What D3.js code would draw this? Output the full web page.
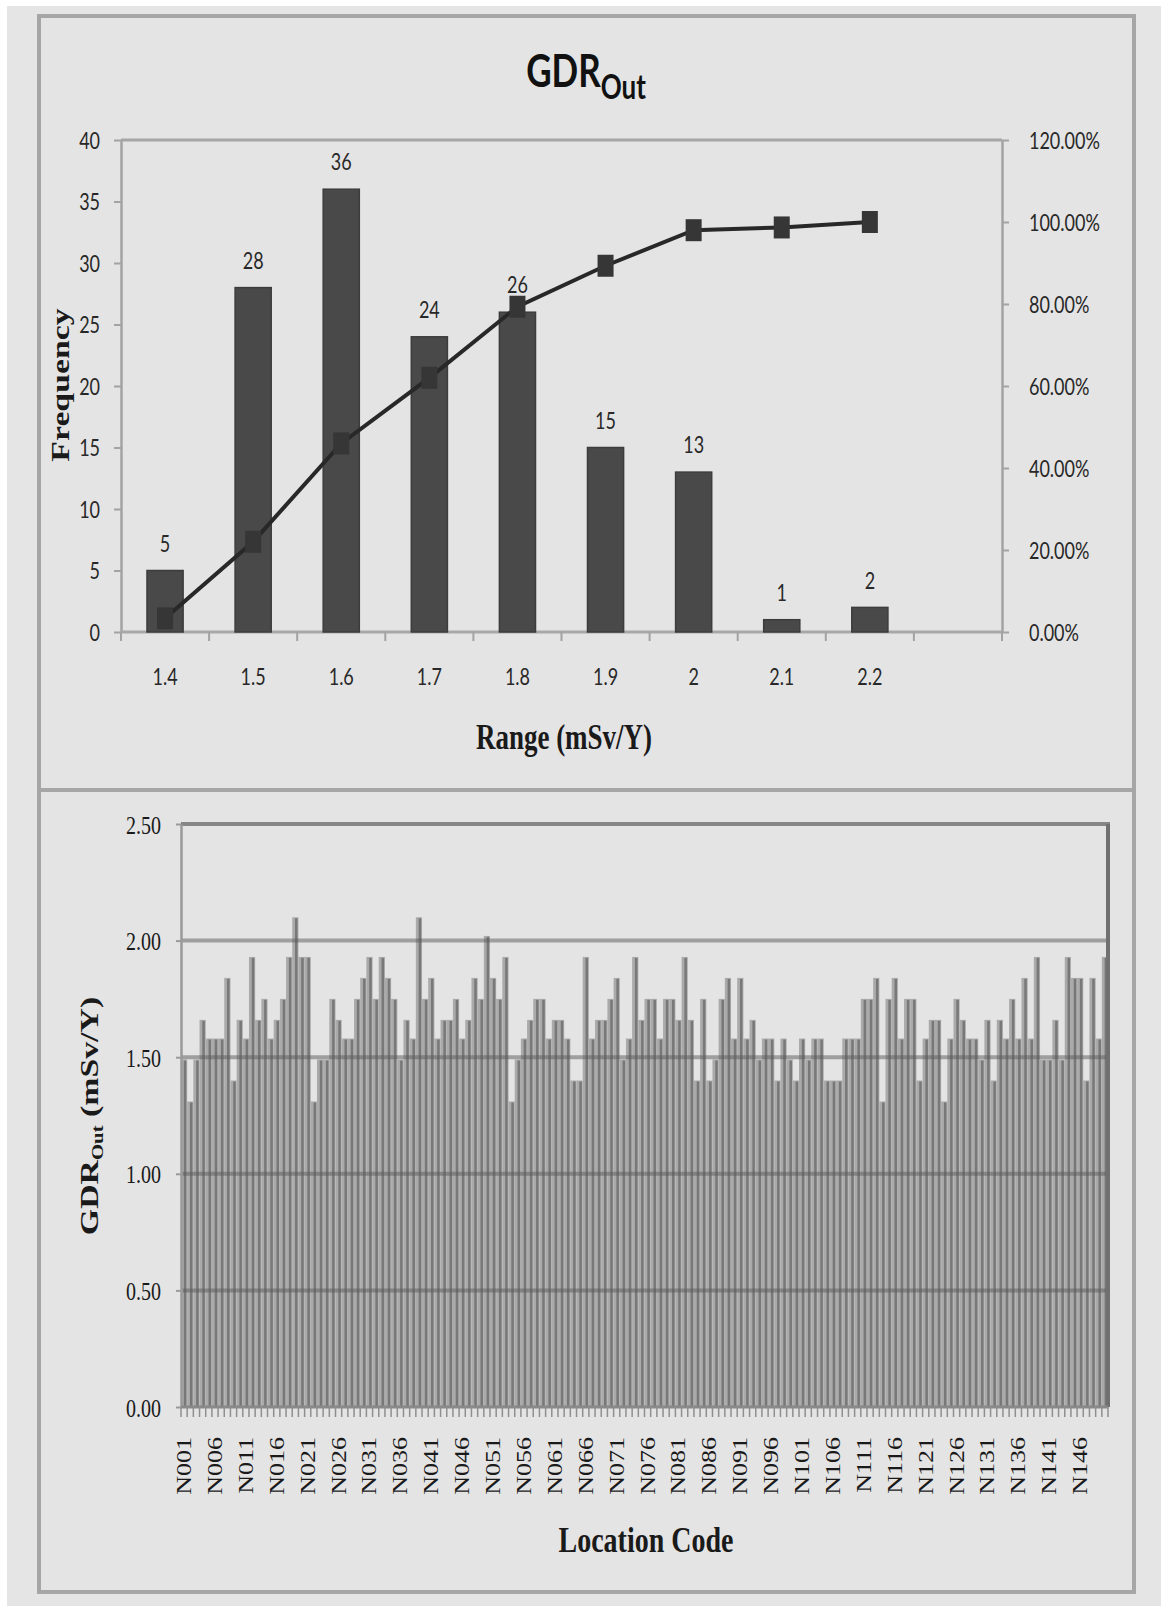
<!DOCTYPE html>
<html>
<head>
<meta charset="utf-8">
<script src="https://cdn.jsdelivr.net/npm/d3@7"></script>
<style>
  html, body { margin: 0; padding: 0; background: #fff; }
  svg { display: block; }
  .sans { font-family: Lato, "Open Sans", sans-serif; fill: #282828; }
  .serif { font-family: "Liberation Serif", "DejaVu Serif", serif; fill: #1a1a1a; }
</style>
</head>
<body>
<div id="chart"></div>
<script>
// ---- top chart: histogram of GDR_Out ----
var binLabels = ["1.4", "1.5", "1.6", "1.7", "1.8", "1.9", "2", "2.1", "2.2", ""];
var frequency = [5, 28, 36, 24, 26, 15, 13, 1, 2];
var cumulativePct = [3.33, 22.00, 46.00, 62.00, 79.33, 89.33, 98.00, 98.67, 100.00];
var freqTicks = [0, 5, 10, 15, 20, 25, 30, 35, 40];
var pctTicks = [0, 20, 40, 60, 80, 100, 120];

// ---- bottom chart: GDR_Out per location ----
var gdrTicks = [0, 0.5, 1.0, 1.5, 2.0, 2.5];
var gdrOut = [
  1.49, 1.31, 1.49, 1.66, 1.58, 1.58, 1.58, 1.84, 1.40, 1.66,
  1.58, 1.93, 1.66, 1.75, 1.58, 1.66, 1.75, 1.93, 2.10, 1.93,
  1.93, 1.31, 1.49, 1.49, 1.75, 1.66, 1.58, 1.58, 1.75, 1.84,
  1.93, 1.75, 1.93, 1.84, 1.75, 1.49, 1.66, 1.58, 2.10, 1.75,
  1.84, 1.58, 1.66, 1.66, 1.75, 1.58, 1.66, 1.84, 1.75, 2.02,
  1.84, 1.75, 1.93, 1.31, 1.49, 1.58, 1.66, 1.75, 1.75, 1.58,
  1.66, 1.66, 1.58, 1.40, 1.40, 1.93, 1.58, 1.66, 1.66, 1.75,
  1.84, 1.49, 1.58, 1.93, 1.66, 1.75, 1.75, 1.58, 1.75, 1.75,
  1.66, 1.93, 1.66, 1.40, 1.75, 1.40, 1.49, 1.75, 1.84, 1.58,
  1.84, 1.58, 1.66, 1.49, 1.58, 1.58, 1.40, 1.58, 1.49, 1.40,
  1.58, 1.49, 1.58, 1.58, 1.40, 1.40, 1.40, 1.58, 1.58, 1.58,
  1.75, 1.75, 1.84, 1.31, 1.75, 1.84, 1.58, 1.75, 1.75, 1.40,
  1.58, 1.66, 1.66, 1.31, 1.58, 1.75, 1.66, 1.58, 1.58, 1.49,
  1.66, 1.40, 1.66, 1.58, 1.75, 1.58, 1.84, 1.58, 1.93, 1.49,
  1.49, 1.66, 1.49, 1.93, 1.84, 1.84, 1.40, 1.84, 1.58, 1.93
];
var locationCodes = gdrOut.map(function (d, i) { return "N" + d3.format("03d")(i + 1); });

var W = 1161, H = 1606;
var S = 1.3; // the reference picture is stretched vertically, text too

var svg = d3.select("#chart").append("svg")
    .attr("width", W)
    .attr("height", H);

// page + panel frames
svg.append("rect").attr("x", 7).attr("y", 6).attr("width", W - 7).attr("height", H - 6).attr("fill", "#e5e5e5");
svg.append("rect").attr("x", 39).attr("y", 16).attr("width", 1095).attr("height", 774)
    .attr("fill", "#e4e4e4").attr("stroke", "#a6a6a6").attr("stroke-width", 4);
svg.append("rect").attr("x", 39).attr("y", 790).attr("width", 1095).attr("height", 802)
    .attr("fill", "#e4e4e4").attr("stroke", "#a6a6a6").attr("stroke-width", 4);

// text placed at (x,y) and stretched like the reference
function label(g, x, y, str, cls, size, rot) {
    return g.append("text")
        .attr("class", cls)
        .attr("transform", "translate(" + x + "," + y + ") scale(1," + S + ")" + (rot ? " rotate(" + rot + ")" : ""))
        .style("font-size", size + "px")
        .text(str);
}

function styleAxis(g, color, width) {
    g.select(".domain").attr("stroke", color).attr("stroke-width", width);
    g.selectAll(".tick line").attr("stroke", color).attr("stroke-width", 2);
}

// ================= TOP CHART =================
var topG = svg.append("g");

var xBins = d3.scaleBand().domain(binLabels).range([121, 1002]).paddingInner(0.59).paddingOuter(0.295);
var xEdges = d3.scaleBand().domain(binLabels).range([121, 1002]);
var yFreq = d3.scaleLinear().domain([0, 40]).range([632, 140]);
var yPct = d3.scaleLinear().domain([0, 120]).range([632, 140]);

// title GDR_Out
var title = topG.append("text")
    .attr("class", "sans")
    .attr("transform", "translate(586,87) scale(1," + S + ")")
    .attr("text-anchor", "middle")
    .style("font-weight", "bold")
    .style("fill", "#111");
title.append("tspan").style("font-size", "35px").text("GDR");
title.append("tspan").style("font-size", "26px").attr("dy", 9).text("Out");

// plot top border
topG.append("line").attr("x1", 121).attr("x2", 1002).attr("y1", yFreq(40)).attr("y2", yFreq(40))
    .attr("stroke", "#a6a6a6").attr("stroke-width", 3);

// left axis
var axL = topG.append("g").attr("transform", "translate(121,0)")
    .call(d3.axisLeft(yFreq).tickValues(freqTicks).tickSizeInner(7).tickSizeOuter(0).tickPadding(14));
styleAxis(axL, "#a3a3a3", 2.5);
axL.selectAll(".tick text").attr("class", "sans").attr("transform", "scale(1," + S + ")")
    .style("font-size", "18px").attr("dy", "0.35em");

// right axis
var axR = topG.append("g").attr("transform", "translate(1002,0)")
    .call(d3.axisRight(yPct).tickValues(pctTicks).tickSizeInner(7).tickSizeOuter(0).tickPadding(20)
        .tickFormat(function (d) { return d.toFixed(2) + "%"; }));
styleAxis(axR, "#a3a3a3", 2.5);
axR.selectAll(".tick text").attr("class", "sans").attr("transform", "scale(1," + S + ")")
    .style("font-size", "18px").attr("dy", "0.35em");

// bottom axis line + ticks at bin edges
topG.append("line").attr("x1", 121).attr("x2", 1002).attr("y1", 632).attr("y2", 632)
    .attr("stroke", "#a8a8a8").attr("stroke-width", 3);
topG.selectAll(".binTick")
    .data(binLabels.concat(["end"]))
    .enter().append("line")
    .attr("x1", function (d) { return d === "end" ? 1002 : xEdges(d); })
    .attr("x2", function (d) { return d === "end" ? 1002 : xEdges(d); })
    .attr("y1", 632).attr("y2", 641)
    .attr("stroke", "#a3a3a3").attr("stroke-width", 2);

binLabels.forEach(function (d) {
    label(topG, xBins(d) + xBins.bandwidth() / 2, 677, d, "sans", 18)
        .attr("text-anchor", "middle").attr("dy", "0.35em");
});

// bars
topG.selectAll(".freqBar")
    .data(frequency)
    .enter().append("rect")
    .attr("x", function (d, i) { return xBins(binLabels[i]); })
    .attr("y", function (d) { return yFreq(d); })
    .attr("width", xBins.bandwidth())
    .attr("height", function (d) { return yFreq(0) - yFreq(d); })
    .attr("fill", "#494949")
    .attr("stroke", "#3c3c3c")
    .attr("stroke-width", 1.5);

// data labels
frequency.forEach(function (d, i) {
    label(topG, xBins(binLabels[i]) + xBins.bandwidth() / 2, yFreq(d) - 27, d, "sans", 18)
        .attr("text-anchor", "middle").attr("dy", "0.35em");
});

// cumulative % line
var cumLine = d3.line()
    .x(function (d, i) { return xBins(binLabels[i]) + xBins.bandwidth() / 2; })
    .y(function (d) { return yPct(d); });
topG.append("path").datum(cumulativePct)
    .attr("d", cumLine)
    .attr("fill", "none")
    .attr("stroke", "#282828")
    .attr("stroke-width", 4);
topG.selectAll(".cumMark")
    .data(cumulativePct)
    .enter().append("rect")
    .attr("x", function (d, i) { return xBins(binLabels[i]) + xBins.bandwidth() / 2 - 8; })
    .attr("y", function (d) { return yPct(d) - 11; })
    .attr("width", 16)
    .attr("height", 22)
    .attr("fill", "#363636");

// axis titles
label(topG, 61, 385, "Frequency", "serif", 26, -90)
    .attr("text-anchor", "middle").attr("dy", "0.3em").style("font-weight", "bold");
label(topG, 564, 737, "Range (mSv/Y)", "serif", 27)
    .attr("text-anchor", "middle").attr("dy", "0.35em").style("font-weight", "bold");

// ================= BOTTOM CHART =================
var botG = svg.append("g");

var xLoc = d3.scaleBand().domain(locationCodes).range([181, 1108]);
var yGdr = d3.scaleLinear().domain([0, 2.5]).range([1407, 824]);
var bw = xLoc.bandwidth();

// bars: light body with a darker core
botG.selectAll(".gdrBar")
    .data(gdrOut)
    .enter().append("rect")
    .attr("x", function (d, i) { return xLoc(locationCodes[i]); })
    .attr("y", function (d) { return yGdr(d); })
    .attr("width", bw)
    .attr("height", function (d) { return yGdr(0) - yGdr(d); })
    .attr("fill", "#aaaaaa");
botG.selectAll(".gdrCore")
    .data(gdrOut)
    .enter().append("rect")
    .attr("x", function (d, i) { return xLoc(locationCodes[i]) + 2.8; })
    .attr("y", function (d) { return yGdr(d) + 1; })
    .attr("width", 2.5)
    .attr("height", function (d) { return yGdr(0) - yGdr(d) - 1; })
    .attr("fill", "#787878");

// gridlines over the bars
botG.selectAll(".grid")
    .data(gdrTicks.filter(function (d) { return d > 0 && d < 2.5; }))
    .enter().append("line")
    .attr("x1", 181).attr("x2", 1108)
    .attr("y1", function (d) { return yGdr(d); })
    .attr("y2", function (d) { return yGdr(d); })
    .attr("stroke", "#5a5a5a")
    .attr("stroke-opacity", 0.5)
    .attr("stroke-width", 4);

// frame: top + right
botG.append("line").attr("x1", 181).attr("x2", 1110).attr("y1", yGdr(2.5)).attr("y2", yGdr(2.5))
    .attr("stroke", "#868686").attr("stroke-width", 4);
botG.append("line").attr("x1", 1108).attr("x2", 1108).attr("y1", yGdr(2.5)).attr("y2", yGdr(0))
    .attr("stroke", "#707070").attr("stroke-width", 4);

// left axis
var axG = botG.append("g").attr("transform", "translate(181,0)")
    .call(d3.axisLeft(yGdr).tickValues(gdrTicks).tickFormat(d3.format(".2f"))
        .tickSizeInner(5).tickSizeOuter(0).tickPadding(15));
styleAxis(axG, "#9a9a9a", 2.5);
axG.selectAll(".tick text").attr("class", "serif").attr("transform", "scale(1," + S + ")")
    .style("font-size", "20px").attr("dy", "0.35em");

// x axis line and per-bar ticks
botG.append("line").attr("x1", 181).attr("x2", 1108).attr("y1", yGdr(0)).attr("y2", yGdr(0))
    .attr("stroke", "#888").attr("stroke-width", 3);
botG.selectAll(".locTick")
    .data(locationCodes.concat(["end"]))
    .enter().append("line")
    .attr("x1", function (d) { return d === "end" ? 1108 : xLoc(d); })
    .attr("x2", function (d) { return d === "end" ? 1108 : xLoc(d); })
    .attr("y1", yGdr(0)).attr("y2", yGdr(0) + 10)
    .attr("stroke", "#8f8f8f").attr("stroke-width", 1.5);

locationCodes.forEach(function (d, i) {
    if (i % 5 !== 0) return;
    label(botG, xLoc(d) + bw / 2, 1437, d, "serif", 20, -90)
        .attr("text-anchor", "end").attr("dy", "0.35em");
});

// axis titles
label(botG, 646, 1539, "Location Code", "serif", 28)
    .attr("text-anchor", "middle").attr("dy", "0.35em").style("font-weight", "bold");

var yTitle = botG.append("text")
    .attr("class", "serif")
    .attr("transform", "translate(90,1116) scale(1," + S + ") rotate(-90)")
    .attr("text-anchor", "middle")
    .attr("dy", "0.3em")
    .style("font-weight", "bold")
    .style("font-size", "26px");
yTitle.append("tspan").text("GDR");
yTitle.append("tspan").style("font-size", "16px").attr("dy", 5).text("Out");
yTitle.append("tspan").attr("dy", -5).text(" (mSv/Y)");
</script>
</body>
</html>
